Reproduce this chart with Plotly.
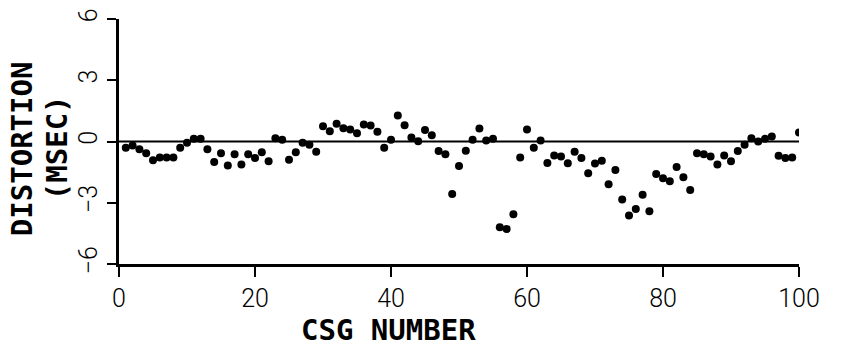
import plotly.graph_objects as go

csg = list(range(1, 101))
distortion = [
    -0.30, -0.19, -0.38, -0.58, -0.92, -0.78, -0.78, -0.78, -0.31, -0.06,
    0.13, 0.13, -0.38, -1.00, -0.58, -1.17, -0.63, -1.13, -0.63, -0.81,
    -0.53, -0.97, 0.16, 0.09, -0.89, -0.53, -0.06, -0.16, -0.50, 0.75,
    0.50, 0.87, 0.65, 0.59, 0.41, 0.83, 0.78, 0.48, -0.30, 0.08,
    1.27, 0.80, 0.20, 0.01, 0.56, 0.31, -0.47, -0.63, -2.57, -1.20,
    -0.45, 0.08, 0.64, 0.05, 0.13, -4.20, -4.28, -3.56, -0.78, 0.59,
    -0.31, 0.05, -1.05, -0.69, -0.73, -1.07, -0.50, -0.81, -1.55, -1.08,
    -0.94, -2.09, -1.39, -2.84, -3.63, -3.31, -2.61, -3.42, -1.59, -1.80,
    -1.95, -1.25, -1.75, -2.38, -0.58, -0.63, -0.73, -1.13, -0.69, -0.97,
    -0.47, -0.16, 0.16, 0.00, 0.13, 0.25, -0.70, -0.81, -0.78, 0.44,
]
x_ticks = [0, 20, 40, 60, 80, 100]
y_ticks = [-6, -3, 0, 3, 6]
zero_line_x = [0, 100]
zero_line_y = [0, 0]

fig = go.Figure()
fig.add_trace(go.Scatter(x=zero_line_x, y=zero_line_y, mode="lines",
                         line=dict(color="black", width=2), hoverinfo="skip"))
fig.add_trace(go.Scatter(x=csg, y=distortion, mode="markers",
                         marker=dict(color="black", size=8)))

tick_font = dict(family="Roboto", size=25, color="black", weight=300)
title_font = dict(family="DejaVu Sans Mono", size=29, color="black", weight="bold")

fig.update_layout(
    width=843, height=348,
    margin=dict(l=119, r=44, t=8, b=84),
    paper_bgcolor="white", plot_bgcolor="white",
    showlegend=False,
    xaxis=dict(range=[0, 100], tickvals=x_ticks, ticks="outside", ticklen=10,
               tickwidth=1.5, tickcolor="black", showline=True, linewidth=3,
               linecolor="black", showgrid=False, zeroline=False,
               tickfont=tick_font, ticklabeloverflow="allow"),
    yaxis=dict(range=[-6, 6], tickvals=y_ticks, ticks="outside", ticklen=9,
               tickwidth=1.5, tickcolor="black", showline=True, linewidth=3,
               linecolor="black", showgrid=False, zeroline=False,
               tickangle=-90, tickfont=tick_font, ticklabeloverflow="allow"),
    annotations=[
        dict(text="<b>DISTORTION</b>", textangle=-90,
             xref="paper", yref="paper", x=(22 - 119) / 680, y=(264 - 144) / 256,
             xanchor="center", yanchor="middle", showarrow=False,
             font=title_font),
        dict(text="<b>(MSEC)</b>", textangle=-90,
             xref="paper", yref="paper", x=(57 - 119) / 680, y=(264 - 143) / 256,
             xanchor="center", yanchor="middle", showarrow=False,
             font=title_font),
        dict(text="<b>CSG NUMBER</b>", xref="paper", yref="paper",
             x=(388 - 119) / 680, y=(264 - 333) / 256, xanchor="center",
             yanchor="middle", showarrow=False, font=title_font),
    ],
)

fig.write_html("out.html")
